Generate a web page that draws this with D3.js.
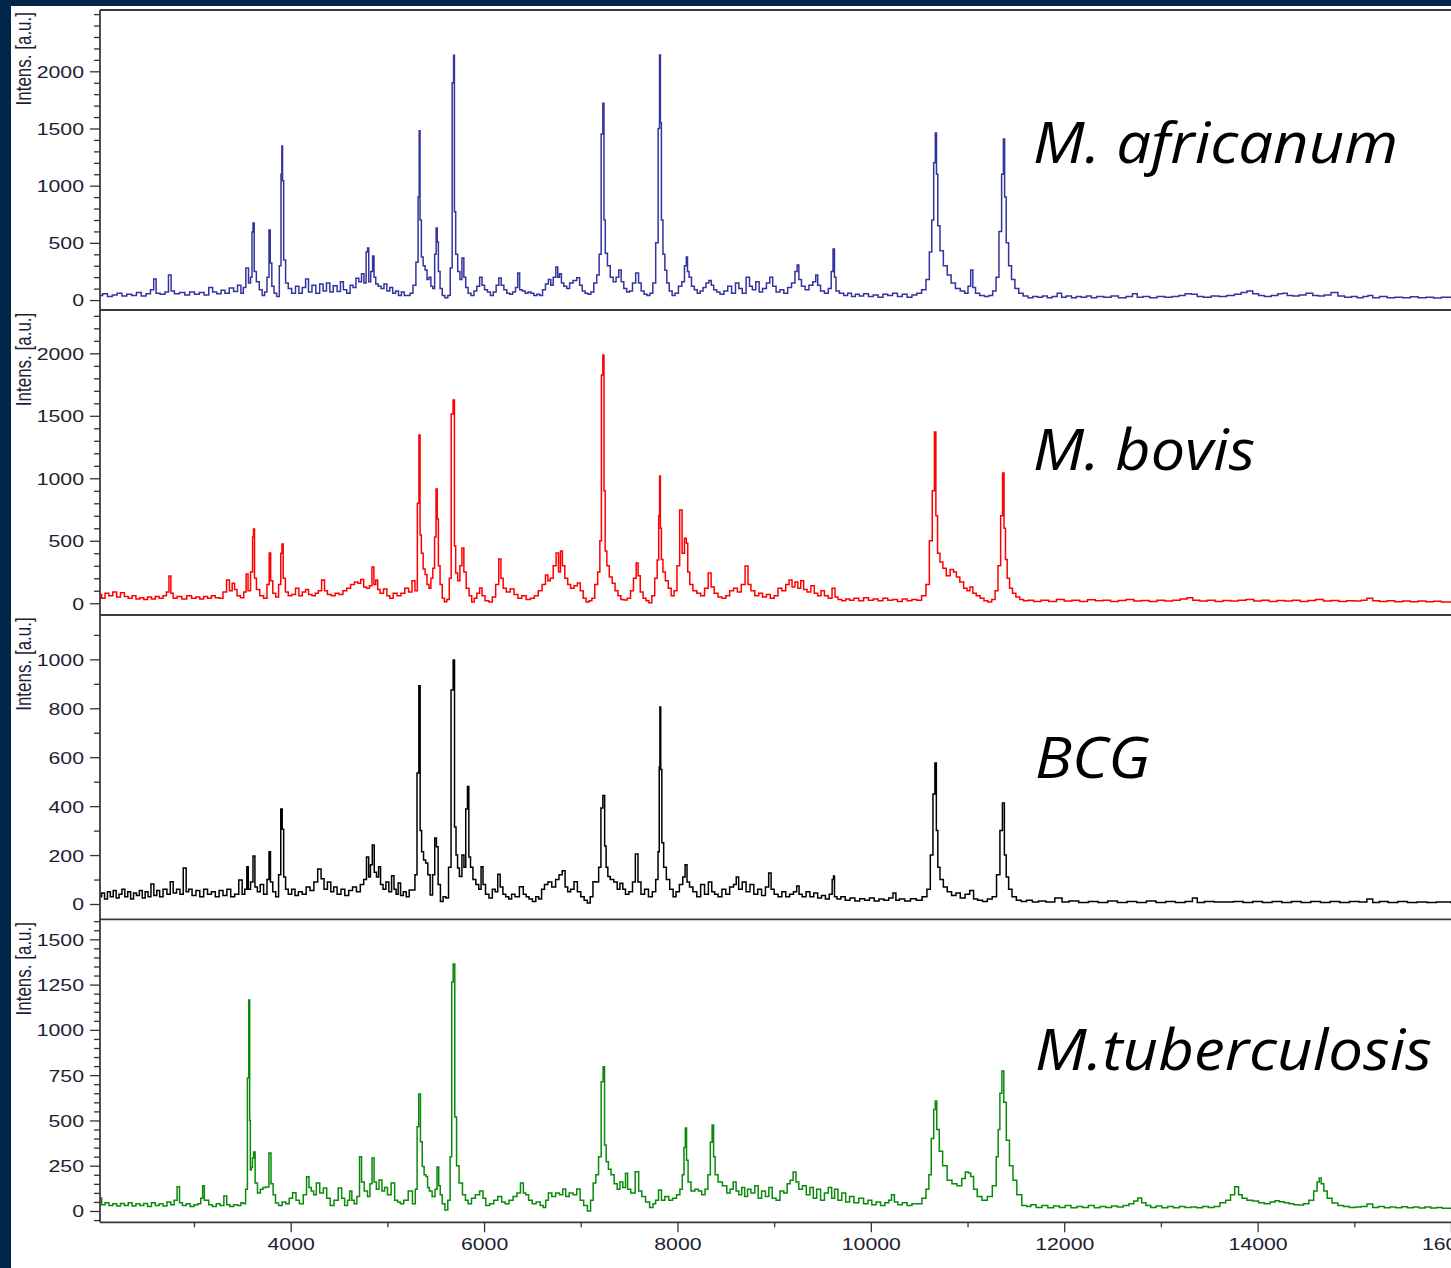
<!DOCTYPE html>
<html>
<head>
<meta charset="utf-8">
<script src="https://cdn.jsdelivr.net/npm/d3@7"></script>
<style>
  html, body { margin: 0; padding: 0; background: #022649; }
  svg { display: block; }
</style>
</head>
<body>
<svg id="chart" width="1451" height="1268"></svg>
<script>
// ---- data: MALDI-TOF spectra, [m/z, intensity (a.u.)] ----
const speciesNames = ["M. africanum", "M. bovis", "BCG", "M.tuberculosis"];

const africanum = [[2030,40],[2080,55],[2130,30],[2180,45],[2230,60],[2280,35],[2330,50],[2380,40],[2430,65],[2480,35],[2530,55],[2570,90],[2597,184],[2620,60],[2680,50],[2720,70],[2752,218],[2775,80],[2820,55],[2880,65],[2930,45],[2980,70],[3030,50],[3080,65],[3130,45],[3176,110],[3210,70],[3260,55],[3300,85],[3340,60],[3390,105],[3430,75],[3470,130],[3500,60],[3520,110],[3553,280],[3575,150],[3595,200],[3605,594],[3616,673],[3630,250],[3660,160],[3690,90],[3720,40],[3740,70],[3770,200],[3782,612],[3795,323],[3815,120],[3840,60],[3870,30],[3895,300],[3905,1100],[3912,1347],[3920,1043],[3935,350],[3960,150],[3990,100],[4030,60],[4070,120],[4100,60],[4140,110],[4169,184],[4200,70],[4240,130],[4280,60],[4320,140],[4350,80],[4390,150],[4420,70],[4460,125],[4500,75],[4530,160],[4560,90],[4600,60],[4630,130],[4660,110],[4690,190],[4720,160],[4745,230],[4770,150],[4790,420],[4800,455],[4815,160],[4840,250],[4854,385],[4870,200],[4890,140],[4920,120],[4950,100],[4980,140],[5010,80],[5040,110],[5070,60],[5100,80],[5130,40],[5160,70],[5190,40],[5220,40],[5250,60],[5280,130],[5310,330],[5325,900],[5333,1481],[5343,700],[5360,376],[5380,300],[5400,262],[5420,180],[5440,200],[5460,120],[5480,100],[5498,400],[5511,630],[5520,507],[5535,250],[5555,100],[5580,40],[5610,20],[5640,40],[5660,280],[5680,1900],[5689,2140],[5698,772],[5715,400],[5740,250],[5760,180],[5782,367],[5800,200],[5820,110],[5850,60],[5880,40],[5910,80],[5940,120],[5968,200],[5990,130],[6020,90],[6050,70],[6080,40],[6110,70],[6140,130],[6164,192],[6190,130],[6220,90],[6250,60],[6280,50],[6310,70],[6340,110],[6356,236],[6380,90],[6410,80],[6440,60],[6470,70],[6500,60],[6530,40],[6560,50],[6590,40],[6620,90],[6650,140],[6680,180],[6700,130],[6730,200],[6754,289],[6770,200],[6790,230],[6810,150],[6840,120],[6870,100],[6900,150],[6940,170],[6977,195],[7000,130],[7030,80],[7060,60],[7090,50],[7120,70],[7150,150],[7180,220],[7200,400],[7222,1452],[7235,1720],[7245,700],[7262,410],[7290,300],[7320,200],[7350,160],[7380,200],[7406,262],[7430,160],[7460,100],[7490,70],[7520,80],[7550,150],[7586,236],[7610,150],[7640,80],[7670,50],[7700,40],[7730,60],[7760,150],[7790,500],[7810,1500],[7819,2143],[7828,1550],[7840,700],[7860,400],[7880,260],[7900,150],[7930,80],[7960,40],[7990,60],[8030,120],[8060,160],[8085,300],[8098,376],[8110,250],[8130,200],[8160,120],[8190,90],[8220,60],[8250,80],[8280,110],[8310,150],[8340,170],[8360,130],[8390,90],[8420,70],[8460,50],[8500,80],[8540,120],[8580,60],[8620,150],[8650,100],[8690,60],[8730,200],[8760,120],[8790,90],[8830,160],[8860,70],[8900,100],[8940,150],[8970,200],[9000,120],[9040,70],[9080,90],[9120,60],[9160,110],[9200,150],[9230,250],[9246,306],[9265,180],[9300,120],[9340,90],[9380,130],[9420,160],[9441,218],[9460,130],[9500,80],[9540,60],[9580,100],[9600,250],[9618,446],[9630,200],[9650,80],[9700,60],[9740,40],[9780,60],[9820,30],[9860,50],[9900,35],[9950,55],[10000,30],[10050,45],[10100,25],[10150,50],[10200,40],[10250,60],[10300,30],[10350,50],[10400,25],[10450,45],[10500,60],[10550,90],[10590,180],[10620,420],[10640,700],[10660,1200],[10673,1460],[10685,1100],[10700,650],[10730,430],[10770,300],[10810,220],[10850,150],[10900,100],[10950,80],[10990,60],[11020,120],[11045,262],[11065,110],[11100,60],[11150,40],[11200,30],[11240,40],[11280,80],[11310,200],[11340,600],[11365,1100],[11377,1408],[11390,900],[11410,500],[11440,300],[11470,180],[11510,100],[11550,60],[11600,35],[11650,20],[11700,30],[11750,25],[11800,35],[11850,20],[11900,30],[11955,60],[11990,25],[12050,35],[12100,20],[12150,30],[12200,25],[12260,35],[12300,20],[12369,30],[12450,25],[12520,35],[12600,20],[12680,30],[12731,55],[12780,25],[12850,30],[12920,20],[13000,30],[13080,25],[13150,30],[13220,40],[13280,55],[13352,50],[13400,30],[13480,25],[13560,35],[13640,30],[13720,40],[13800,50],[13860,65],[13920,80],[13980,55],[14040,40],[14100,30],[14180,40],[14240,55],[14282,60],[14330,40],[14400,35],[14460,45],[14541,60],[14600,40],[14660,35],[14720,45],[14800,65],[14860,35],[14940,25],[15000,30],[15060,20],[15120,30],[15162,40],[15220,20],[15300,30],[15380,20],[15460,25],[15540,20],[15620,28],[15700,20],[15780,25],[15860,18],[15940,25],[16100,20]];

const bovis = [[2030,70],[2060,40],[2100,80],[2140,60],[2180,90],[2220,50],[2260,85],[2300,55],[2340,40],[2380,60],[2420,35],[2460,45],[2500,30],[2540,50],[2580,35],[2620,55],[2660,40],[2700,60],[2730,90],[2752,218],[2770,80],[2800,40],[2850,55],[2900,35],[2950,60],[3000,40],[3040,50],[3080,35],[3120,55],[3160,40],[3200,60],[3240,45],[3280,40],[3320,90],[3354,186],[3380,100],[3410,160],[3430,110],[3460,60],[3500,45],[3530,90],[3548,234],[3570,100],[3600,250],[3612,530],[3620,594],[3632,200],[3660,110],[3700,60],[3740,40],[3770,150],[3786,402],[3800,180],[3830,80],[3860,50],[3890,150],[3905,400],[3915,474],[3930,200],[3960,90],[3990,60],[4030,70],[4070,120],[4100,60],[4140,90],[4170,110],[4200,70],[4240,60],[4270,80],[4300,100],[4340,186],[4360,100],[4400,70],[4440,60],[4480,80],[4520,70],[4560,100],[4600,120],[4640,150],[4680,170],[4710,160],[4740,190],[4770,130],[4800,120],[4830,140],[4851,290],[4870,150],[4890,186],[4910,110],[4940,80],[4980,114],[5010,60],[5040,40],[5080,80],[5120,60],[5160,80],[5200,120],[5240,90],[5270,180],[5300,100],[5320,800],[5333,1346],[5343,546],[5360,400],[5380,274],[5400,230],[5420,150],[5440,120],[5460,200],[5480,280],[5496,530],[5511,914],[5520,674],[5535,300],[5555,150],[5580,40],[5600,13],[5630,30],[5650,200],[5670,1514],[5689,1626],[5698,458],[5715,242],[5740,180],[5760,300],[5782,442],[5800,250],[5830,120],[5860,60],[5885,10],[5910,40],[5940,80],[5968,122],[5990,60],[6030,20],[6070,10],[6100,50],[6140,150],[6164,354],[6185,200],[6210,120],[6250,90],[6290,114],[6330,70],[6370,40],[6410,60],[6460,30],[6500,40],[6540,60],[6580,100],[6620,150],[6650,226],[6670,180],[6700,200],[6730,300],[6760,402],[6780,250],[6800,418],[6820,300],[6850,200],[6880,150],[6910,120],[6950,140],[6980,163],[7010,100],[7040,40],[7070,10],[7100,20],[7130,40],[7160,150],[7190,250],[7205,500],[7222,1826],[7235,1986],[7245,900],[7260,418],[7280,300],[7310,210],[7340,160],[7370,100],[7400,60],[7430,30],[7460,26],[7500,40],[7530,100],[7560,200],[7586,322],[7600,220],[7630,90],[7660,40],[7690,20],[7720,5],[7750,60],[7780,200],[7800,346],[7812,700],[7819,1018],[7828,600],[7840,350],[7860,250],[7890,180],[7920,120],[7950,60],[7980,100],[8010,300],[8036,746],[8060,400],[8085,520],[8098,480],[8115,250],[8140,150],[8180,100],[8220,80],[8260,60],[8300,120],[8336,242],[8360,130],[8400,80],[8440,50],[8480,40],[8520,60],[8560,100],[8600,120],[8640,90],[8680,150],[8719,298],[8740,150],[8780,100],[8820,60],[8860,80],[8900,50],[8940,70],[8980,40],[9020,60],[9060,120],[9100,100],[9140,150],[9170,186],[9200,130],[9230,170],[9260,120],[9290,180],[9320,110],[9360,90],[9400,140],[9430,80],[9470,60],[9500,100],[9540,60],[9580,40],[9618,120],[9640,50],[9680,30],[9720,20],[9760,35],[9800,25],[9850,40],[9900,20],[9950,45],[10000,25],[10050,35],[10100,20],[10150,40],[10200,25],[10250,30],[10300,15],[10350,35],[10400,20],[10450,30],[10500,25],[10550,60],[10590,150],[10620,500],[10650,900],[10665,1370],[10680,700],[10700,400],[10730,330],[10760,280],[10800,220],[10840,270],[10870,250],[10900,210],[10940,170],[10980,120],[11010,100],[11040,130],[11070,80],[11110,60],[11150,40],[11190,20],[11230,10],[11270,30],[11300,100],[11330,300],[11355,700],[11370,1042],[11385,600],[11400,350],[11420,200],[11450,120],[11480,80],[11520,50],[11560,30],[11600,20],[11650,25],[11720,15],[11800,25],[11880,15],[11960,30],[12040,18],[12120,25],[12200,15],[12280,28],[12360,20],[12440,25],[12520,15],[12600,22],[12680,30],[12760,18],[12840,22],[12920,15],[13000,25],[13080,18],[13160,25],[13240,35],[13300,45],[13360,25],[13440,18],[13520,25],[13600,15],[13680,22],[13760,18],[13840,25],[13920,30],[14000,18],[14080,25],[14160,15],[14240,22],[14320,18],[14400,25],[14480,15],[14560,22],[14640,30],[14720,18],[14800,22],[14880,15],[14960,20],[15040,18],[15100,25],[15160,40],[15220,20],[15300,15],[15380,20],[15460,12],[15540,18],[15620,12],[15700,18],[15780,12],[15860,16],[15940,10],[16100,14]];

const bcg = [[2030,30],[2060,45],[2090,20],[2120,50],[2150,30],[2180,55],[2210,25],[2240,40],[2270,60],[2300,30],[2330,50],[2360,20],[2390,45],[2420,35],[2450,55],[2480,25],[2510,50],[2540,30],[2570,82],[2600,35],[2630,55],[2660,30],[2700,60],[2740,40],[2770,91],[2800,45],[2840,60],[2870,40],[2908,147],[2930,50],[2960,60],[3000,35],[3040,55],[3080,30],[3120,60],[3160,40],[3200,50],[3240,30],[3280,55],[3320,35],[3360,60],[3400,30],[3440,40],[3486,98],[3510,40],[3540,60],[3553,152],[3570,60],[3600,90],[3620,196],[3640,70],[3670,50],[3700,80],[3740,40],[3770,100],[3782,214],[3800,90],[3830,50],[3860,30],[3890,120],[3905,388],[3920,306],[3935,110],[3960,60],[3990,40],[4030,60],[4060,35],[4100,50],[4140,40],[4180,70],[4220,55],[4260,90],[4299,143],[4330,103],[4360,60],[4400,90],[4430,50],[4460,70],[4500,40],[4540,60],[4580,35],[4620,55],[4660,70],[4700,50],[4740,80],[4770,100],[4798,192],[4815,110],[4835,160],[4853,241],[4875,130],[4900,110],[4919,152],[4940,80],[4970,60],[5000,90],[5030,50],[5057,116],[5080,60],[5100,40],[5123,86],[5150,35],[5180,50],[5210,30],[5241,57],[5275,57],[5295,120],[5318,535],[5333,892],[5345,300],[5363,214],[5385,180],[5407,168],[5430,120],[5455,37],[5480,120],[5500,270],[5515,234],[5535,80],[5562,10],[5590,30],[5620,25],[5645,150],[5672,875],[5689,997],[5700,315],[5720,200],[5732,147],[5758,112],[5784,200],[5800,150],[5821,388],[5835,480],[5850,192],[5870,150],[5900,100],[5930,80],[5960,60],[5978,152],[6000,80],[6030,40],[6071,25],[6100,60],[6130,50],[6153,122],[6180,70],[6210,40],[6240,30],[6270,20],[6300,40],[6340,30],[6391,71],[6420,40],[6450,30],[6480,20],[6520,10],[6550,30],[6580,20],[6610,60],[6640,80],[6680,90],[6720,70],[6760,100],[6790,120],[6826,136],[6850,70],[6880,50],[6910,60],[6950,91],[6980,50],[7020,30],[7050,15],[7085,4],[7110,30],[7142,91],[7170,90],[7200,150],[7217,392],[7240,443],[7254,237],[7270,150],[7290,112],[7320,100],[7364,90],[7390,60],[7420,85],[7450,60],[7475,40],[7520,50],[7550,90],[7579,204],[7605,90],[7640,40],[7680,60],[7720,30],[7760,50],[7790,100],[7808,214],[7815,560],[7822,805],[7832,550],[7845,250],[7870,150],[7900,100],[7940,60],[7970,30],[8000,50],[8040,80],[8070,110],[8088,160],[8110,90],[8140,70],[8180,50],[8220,30],[8260,80],[8300,40],[8340,90],[8370,50],[8400,40],[8440,30],[8480,60],[8520,40],[8560,70],[8600,80],[8616,110],[8650,60],[8690,90],[8730,50],[8770,80],[8810,40],[8850,60],[8890,35],[8930,70],[8957,127],[8980,60],[9020,40],[9060,30],[9100,50],[9140,30],[9180,40],[9220,50],[9246,74],[9270,40],[9310,30],[9350,50],[9390,30],[9430,45],[9470,25],[9510,35],[9550,20],[9590,40],[9610,100],[9618,114],[9630,30],[9670,20],[9710,30],[9760,15],[9810,25],[9860,12],[9910,22],[9960,15],[10010,25],[10060,12],[10110,20],[10160,15],[10210,25],[10248,45],[10270,15],[10320,20],[10380,12],[10440,22],[10500,15],[10560,30],[10600,60],[10630,200],[10655,450],[10670,576],[10685,300],[10700,150],[10730,100],[10770,70],[10810,50],[10860,35],[10900,45],[10950,25],[11000,40],[11045,55],[11080,20],[11130,15],[11180,10],[11230,20],[11280,30],[11320,120],[11350,300],[11372,413],[11390,200],[11410,110],[11440,60],[11480,30],[11530,15],[11580,10],[11640,15],[11700,8],[11770,12],[11850,8],[11955,25],[12000,8],[12100,12],[12200,6],[12300,10],[12400,6],[12500,12],[12600,6],[12700,10],[12800,6],[12900,12],[13000,6],[13100,10],[13200,6],[13300,10],[13352,25],[13400,6],[13500,10],[13600,8],[13700,8],[13800,10],[13900,6],[14000,10],[14100,6],[14200,10],[14300,6],[14400,10],[14500,6],[14600,10],[14700,6],[14800,10],[14900,6],[15000,10],[15100,8],[15160,20],[15220,6],[15300,10],[15400,6],[15500,10],[15600,6],[15700,8],[15800,6],[15900,8],[16100,6]];

const tuberculosis = [[2030,72],[2060,35],[2100,45],[2140,30],[2180,40],[2220,28],[2260,42],[2300,30],[2340,45],[2380,28],[2420,40],[2460,30],[2500,42],[2540,25],[2580,45],[2620,30],[2660,40],[2700,28],[2740,50],[2780,35],[2810,60],[2841,134],[2860,45],[2900,30],[2940,40],[2980,25],[3020,35],[3060,40],[3080,70],[3099,140],[3115,60],[3135,60],[3170,35],[3210,25],[3250,40],[3290,30],[3328,83],[3350,35],[3390,25],[3430,35],[3470,30],[3500,45],[3523,40],[3545,120],[3560,734],[3572,1165],[3580,500],[3586,226],[3600,240],[3609,293],[3624,326],[3641,155],[3672,100],[3700,120],[3727,130],[3764,132],[3786,320],[3807,150],[3830,90],[3856,44],[3893,30],[3930,50],[3970,40],[4000,70],[4040,101],[4070,60],[4110,40],[4150,90],[4178,189],[4200,130],[4225,110],[4250,90],[4281,155],[4320,100],[4355,127],[4390,70],[4427,30],[4470,60],[4514,127],[4540,70],[4576,30],[4600,60],[4620,110],[4645,60],[4669,40],[4700,80],[4724,300],[4742,160],[4779,110],[4810,80],[4830,150],[4853,293],[4872,160],[4900,120],[4927,171],[4960,110],[4982,130],[5020,90],[5057,155],[5093,60],[5120,50],[5149,40],[5190,60],[5241,110],[5278,40],[5300,120],[5315,465],[5333,646],[5351,383],[5370,245],[5390,200],[5407,190],[5425,130],[5444,110],[5481,80],[5505,120],[5522,243],[5540,140],[5554,90],[5580,40],[5610,5],[5640,60],[5658,300],[5673,1264],[5688,1363],[5706,519],[5725,250],[5758,155],[5795,90],[5820,60],[5850,40],[5890,70],[5930,90],[5978,110],[6000,70],[6035,30],[6080,40],[6120,60],[6164,80],[6200,50],[6237,40],[6280,60],[6320,80],[6360,100],[6393,155],[6420,100],[6441,90],[6480,60],[6516,40],[6560,50],[6600,30],[6625,20],[6650,60],[6681,100],[6720,80],[6760,100],[6800,90],[6829,121],[6860,80],[6900,100],[6940,90],[6977,121],[7010,60],[7050,30],[7088,0],[7115,60],[7142,155],[7170,200],[7198,300],[7224,714],[7238,797],[7254,364],[7272,272],[7300,230],[7327,200],[7364,150],[7390,120],[7420,160],[7450,130],[7475,209],[7494,120],[7540,100],[7586,217],[7612,110],[7650,80],[7690,50],[7734,20],[7760,40],[7789,60],[7819,116],[7850,60],[7890,80],[7930,60],[7970,70],[8010,90],[8040,120],[8060,200],[8075,350],[8088,458],[8100,280],[8120,160],[8160,110],[8200,120],[8232,110],[8270,90],[8300,120],[8330,200],[8350,380],[8367,475],[8380,300],[8400,200],[8440,160],[8490,140],[8530,100],[8560,120],[8593,160],[8620,110],[8650,90],[8680,130],[8710,80],[8740,120],[8780,100],[8820,140],[8850,70],[8890,110],[8930,80],[8960,130],[9000,70],[9040,60],[9080,110],[9120,100],[9150,150],[9180,170],[9212,215],[9240,160],[9270,120],[9315,140],[9350,90],[9390,130],[9420,70],[9460,120],[9500,60],[9540,100],[9580,130],[9610,70],[9640,120],[9680,60],[9720,100],[9760,50],[9800,80],[9850,45],[9900,70],[9950,40],[9990,60],[10030,35],[10080,50],[10120,30],[10170,45],[10200,60],[10228,90],[10260,50],[10300,35],[10350,45],[10400,30],[10450,40],[10507,40],[10550,70],[10590,120],[10610,200],[10640,400],[10660,560],[10673,607],[10690,450],[10725,330],[10760,250],[10818,170],[10860,150],[10921,140],[10960,180],[10994,215],[11020,210],[11045,190],[11080,120],[11120,80],[11179,60],[11230,80],[11283,140],[11310,300],[11324,450],[11345,650],[11365,773],[11385,600],[11417,390],[11450,250],[11490,170],[11530,90],[11593,30],[11630,25],[11680,35],[11740,20],[11800,30],[11860,18],[11920,28],[11980,20],[12040,30],[12100,18],[12160,25],[12220,20],[12280,30],[12340,18],[12400,25],[12460,20],[12520,28],[12580,22],[12640,30],[12700,40],[12740,55],[12782,72],[12820,45],[12870,30],[12920,20],[12980,28],[13040,18],[13100,25],[13160,18],[13220,25],[13280,20],[13340,22],[13400,18],[13460,25],[13520,20],[13580,25],[13640,45],[13700,60],[13740,90],[13786,134],[13820,90],[13860,70],[13920,60],[13980,55],[14040,45],[14100,40],[14160,50],[14200,57],[14250,51],[14300,45],[14350,40],[14400,35],[14450,33],[14500,40],[14560,60],[14600,110],[14630,160],[14644,182],[14670,150],[14700,110],[14740,70],[14800,44],[14860,30],[14920,25],[14980,20],[15040,22],[15100,25],[15162,39],[15220,20],[15280,25],[15340,18],[15400,22],[15460,18],[15520,24],[15580,18],[15640,22],[15700,16],[15760,22],[15820,16],[15880,20],[15940,15],[16100,18]];

const spectra = [africanum, bovis, bcg, tuberculosis];

// intensity domain shown in each panel, [bottom edge, top edge]
const intensityRanges = [[-87, 2536], [-94, 2341], [-62.5, 1180], [-62.4, 1606.6]];
// labelled y ticks and minor tick spacing per panel
const majorTicks = [
  [0, 500, 1000, 1500, 2000],
  [0, 500, 1000, 1500, 2000],
  [0, 200, 400, 600, 800, 1000],
  [0, 250, 500, 750, 1000, 1250, 1500]
];
const minorSteps = [100, 100, 100, 50];
// m/z axis
const massRange = [2028, 16000];
const massTicks = [4000, 6000, 8000, 10000, 12000, 14000, 16000];
const massMinorTicks = [3000, 5000, 7000, 9000, 11000, 13000, 15000];

// ---- layout / style ----
const W = 1451, H = 1268;
const plotLeft = 100, plotRight = 1451;
const panelTops = [10, 310.7, 615.3, 920];
const panelBottoms = [310, 615, 919.3, 1222.3];
const lineColors = ["#34349e", "#ff0000", "#000000", "#0a8a0a"];
const labelPos = [[1033, 163, 365], [1033, 470, 222], [1035, 778, 115], [1035, 1070, 397]];
const stretch = 1.29;
const tickFont = "'Liberation Sans', Arial, sans-serif";

const svg = d3.select("#chart");

svg.append("rect").attr("x", 11).attr("y", 6)
  .attr("width", W - 11).attr("height", H - 6).attr("fill", "#ffffff");

const x = d3.scaleLinear().domain(massRange).range([plotLeft, plotRight]);

const defs = svg.append("defs");

spectra.forEach((series, i) => {
  const top = panelTops[i], bottom = panelBottoms[i];
  const y = d3.scaleLinear().domain(intensityRanges[i]).range([bottom, top]);

  defs.append("clipPath").attr("id", "clip" + i)
    .append("rect").attr("x", plotLeft).attr("y", top)
    .attr("width", plotRight - plotLeft + 20).attr("height", bottom - top);

  // spectrum trace, drawn as a stepped profile like the acquisition software
  svg.append("path")
    .datum(series)
    .attr("clip-path", `url(#clip${i})`)
    .attr("fill", "none")
    .attr("stroke", lineColors[i])
    .attr("stroke-width", 1.5)
    .attr("stroke-linejoin", "miter")
    .attr("d", d3.line().curve(d3.curveStep).x(d => x(d[0])).y(d => y(d[1])));

  // minor y ticks
  const maxV = intensityRanges[i][1];
  const minorVals = d3.range(-minorSteps[i], maxV, minorSteps[i])
    .filter(v => !majorTicks[i].includes(v) && y(v) <= bottom + 0.5 && y(v) >= top);
  const minorAxis = svg.append("g")
    .attr("transform", `translate(${plotLeft},0)`)
    .call(d3.axisLeft(y).tickValues(minorVals).tickSize(6).tickFormat(""));
  minorAxis.select(".domain").remove();
  minorAxis.selectAll("line").attr("stroke", "#333").attr("stroke-width", 1.3);

  // major y ticks with labels
  const majorAxis = svg.append("g")
    .attr("transform", `translate(${plotLeft},0)`)
    .call(d3.axisLeft(y).tickValues(majorTicks[i]).tickSize(10).tickFormat(d3.format("d")));
  majorAxis.select(".domain").remove();
  majorAxis.selectAll("line").attr("stroke", "#333").attr("stroke-width", 1.3);
  majorAxis.selectAll("text")
    .attr("x", 0).attr("dy", "0.36em")
    .attr("transform", `translate(-16,0) scale(${stretch},1)`)
    .attr("font-family", tickFont).attr("font-size", 16.5)
    .attr("fill", "#1e1e34");

  // axis title
  svg.append("text")
    .attr("transform", `translate(31,${top + 2}) scale(${stretch},1) rotate(-90)`)
    .attr("text-anchor", "end")
    .attr("font-family", tickFont).attr("font-size", 17)
    .attr("fill", "#1e1e34")
    .text("Intens. [a.u.]");

  // panel bottom border
  svg.append("line")
    .attr("x1", plotLeft).attr("x2", W).attr("y1", bottom).attr("y2", bottom)
    .attr("stroke", "#3a3a3a").attr("stroke-width", 1.8);

  // species label
  const [lx, ly, lw] = labelPos[i];
  svg.append("text")
    .attr("x", lx).attr("y", ly)
    .attr("font-family", "'Open Sans', 'Noto Sans', sans-serif")
    .attr("font-style", "italic")
    .attr("font-size", 57)
    .attr("textLength", lw).attr("lengthAdjust", "spacingAndGlyphs")
    .attr("fill", "#000")
    .text(speciesNames[i]);
});

// frame top and left axis line
svg.append("line")
  .attr("x1", plotLeft).attr("x2", W).attr("y1", panelTops[0]).attr("y2", panelTops[0])
  .attr("stroke", "#3a3a3a").attr("stroke-width", 1.8);
svg.append("line")
  .attr("x1", plotLeft).attr("x2", plotLeft).attr("y1", panelTops[0]).attr("y2", panelBottoms[3])
  .attr("stroke", "#3a3a3a").attr("stroke-width", 1.8);

// m/z axis
const axisY = panelBottoms[3];
const xMinor = svg.append("g").attr("transform", `translate(0,${axisY})`)
  .call(d3.axisBottom(x).tickValues(massMinorTicks).tickSize(5).tickFormat(""));
xMinor.select(".domain").remove();
xMinor.selectAll("line").attr("stroke", "#333").attr("stroke-width", 1.3);

const xMajor = svg.append("g").attr("transform", `translate(0,${axisY})`)
  .call(d3.axisBottom(x).tickValues(massTicks).tickSize(10).tickFormat(d3.format("d")));
xMajor.select(".domain").remove();
xMajor.selectAll("line").attr("stroke", "#333").attr("stroke-width", 1.3);
xMajor.selectAll("text")
  .attr("y", 0).attr("dy", 0)
  .attr("transform", `translate(0,28) scale(${stretch},1)`)
  .attr("font-family", tickFont).attr("font-size", 16.5)
  .attr("fill", "#1e1e34");
</script>
</body>
</html>
